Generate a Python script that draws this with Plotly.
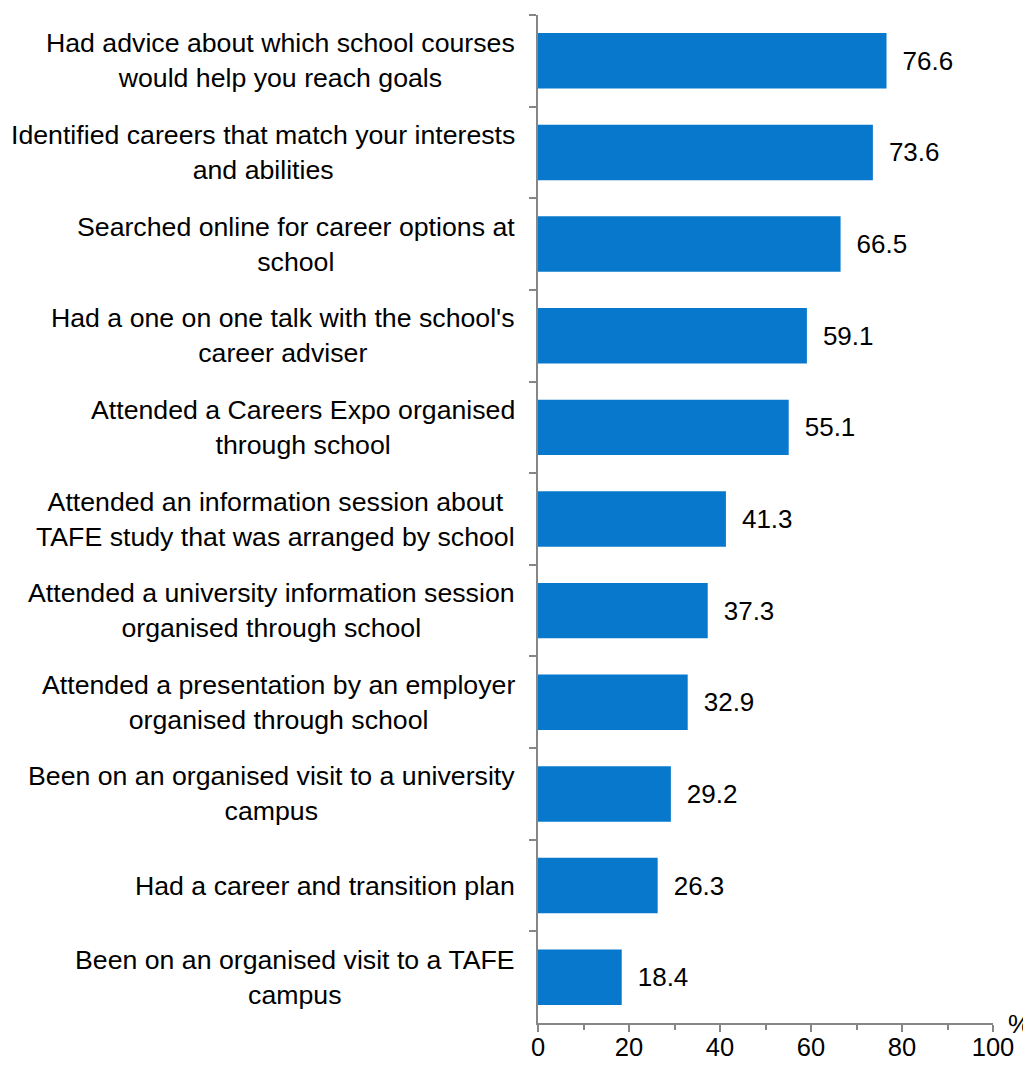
import plotly.graph_objects as go

categories = [
    "Had advice about which school courses<br>would help you reach goals",
    "Identified careers that match your interests<br>and abilities",
    "Searched online for career options at<br>school",
    "Had a one on one talk with the school's<br>career adviser",
    "Attended a Careers Expo organised<br>through school",
    "Attended an information session about<br>TAFE study that was arranged by school",
    "Attended a university information session<br>organised through school",
    "Attended a presentation by an employer<br>organised through school",
    "Been on an organised visit to a university<br>campus",
    "Had a career and transition plan",
    "Been on an organised visit to a TAFE<br>campus",
]
values = [76.6, 73.6, 66.5, 59.1, 55.1, 41.3, 37.3, 32.9, 29.2, 26.3, 18.4]
x_ticks = [0, 20, 40, 60, 80, 100]

FONT = "Arial, Liberation Sans, sans-serif"
AXIS = "#868686"

fig = go.Figure()
fig.add_trace(go.Bar(
    y=categories, x=values, orientation="h",
    marker=dict(color="#0778CB", line=dict(width=0)),
    text=["\u2002" + f"{v:.1f}" for v in values], textposition="outside",
    textfont=dict(family=FONT, size=26, color="#000000"),
    cliponaxis=False, width=0.605,
))

for c in categories:
    fig.add_annotation(
        x=0, xref="paper", y=c, yref="y", text=c, showarrow=False,
        xanchor="right", yanchor="middle", align="center", xshift=-21,
        font=dict(family=FONT, size=26.7, color="#000000"),
    )

fig.add_annotation(x=1, xref="paper", y=0, yref="paper", text="%", showarrow=False,
                   xanchor="left", yanchor="middle", xshift=13, yshift=-1,
                   font=dict(family=FONT, size=26, color="#000000"))

fig.update_layout(
    width=1023, height=1058,
    margin=dict(l=530, r=38, t=7, b=43, autoexpand=False),
    paper_bgcolor="white", plot_bgcolor="white",
    showlegend=False, bargap=0.395,
    xaxis=dict(range=[0, 100], tickvals=x_ticks, showgrid=False, zeroline=False,
               showline=True, linecolor=AXIS, linewidth=1.5,
               ticks="outside", ticklen=7, tickcolor=AXIS, tickwidth=1.5,
               minor=dict(dtick=10, tick0=0, ticks="outside", ticklen=5, tickcolor=AXIS, tickwidth=1.5),
               ticklabelstandoff=-6,
               tickfont=dict(family=FONT, size=25.5, color="#000000")),
    yaxis=dict(autorange="reversed", showticklabels=False, showgrid=False, zeroline=False,
               showline=True, linecolor=AXIS, linewidth=1.5,
               ticks="outside", tickson="boundaries", ticklen=7, tickcolor=AXIS, tickwidth=1.5),
)

fig.write_html("out.html")
